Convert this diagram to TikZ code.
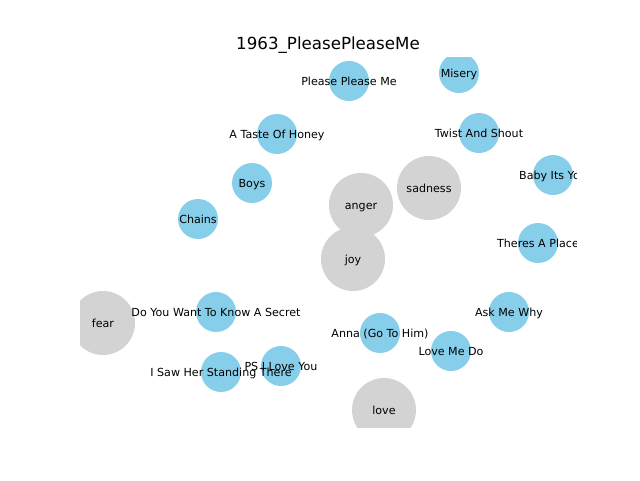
\documentclass[tikz,border=0pt]{standalone}
\usepackage{fontspec}
\setmainfont{DejaVu Sans}
\definecolor{songblue}{HTML}{87CEEB}
\definecolor{emogray}{HTML}{D3D3D3}
\tikzset{
  song/.style={circle, fill=songblue, draw=none, minimum size=40pt, inner sep=0pt},
  emo/.style={circle, fill=emogray, draw=none, minimum size=64pt, inner sep=0pt},
  lbl/.style={inner sep=0pt, text height=8.4pt, text depth=2.6pt, yshift=-1.5pt, font=\fontsize{11.1}{13}\selectfont, text=black},
  ttl/.style={inner sep=0pt, anchor=base, font=\fontsize{16.67}{19}\selectfont}
}
\begin{document}
\begin{tikzpicture}[x=1pt,y=1pt]
\useasboundingbox (0,0) rectangle (640,480);
\node[ttl] (title) at (328,430) {1963\_PleasePleaseMe};
\begin{scope}
\clip (80,52.8) rectangle (576,422.4);
% nodes (y = 480 - pixel y)
\node[song] (misery) at (459,407) {};
\node[song] (ppm) at (349,399) {};
\node[song] (taste) at (277,346) {};
\node[song] (twist) at (479,347) {};
\node[song] (baby) at (553,305) {};
\node[song] (boys) at (252,297) {};
\node[emo] (sadness) at (429,292) {};
\node[emo] (anger) at (361,275) {};
\node[song] (chains) at (198,261) {};
\node[emo] (joy) at (353,221) {};
\node[song] (theres) at (538,237) {};
\node[song] (secret) at (216,168) {};
\node[song] (askme) at (509,168) {};
\node[emo] (fear) at (103,157) {};
\node[song] (anna) at (380,147) {};
\node[song] (lovemedo) at (451,129) {};
\node[song] (psilove) at (281,114) {};
\node[song] (isaw) at (221,108) {};
\node[emo] (love) at (384,70) {};
% labels
\node[lbl] (l-misery) at (misery.center) {Misery};
\node[lbl] (l-ppm) at (ppm.center) {Please Please Me};
\node[lbl] (l-taste) at (taste.center) {A Taste Of Honey};
\node[lbl] (l-twist) at (twist.center) {Twist And Shout};
\node[lbl] (l-baby) at (baby.center) {Baby Its You};
\node[lbl] (l-boys) at (boys.center) {Boys};
\node[lbl] (l-sadness) at (sadness.center) {sadness};
\node[lbl] (l-anger) at (anger.center) {anger};
\node[lbl] (l-chains) at (chains.center) {Chains};
\node[lbl] (l-joy) at (joy.center) {joy};
\node[lbl] (l-theres) at (theres.center) {Theres A Place};
\node[lbl] (l-secret) at (secret.center) {Do You Want To Know A Secret};
\node[lbl] (l-askme) at (askme.center) {Ask Me Why};
\node[lbl] (l-fear) at (fear.center) {fear};
\node[lbl] (l-anna) at (anna.center) {Anna (Go To Him)};
\node[lbl] (l-lovemedo) at (lovemedo.center) {Love Me Do};
\node[lbl] (l-psilove) at (psilove.center) {PS I Love You};
\node[lbl] (l-isaw) at (isaw.center) {I Saw Her Standing There};
\node[lbl] (l-love) at (love.center) {love};
\end{scope}
\end{tikzpicture}
\end{document}
